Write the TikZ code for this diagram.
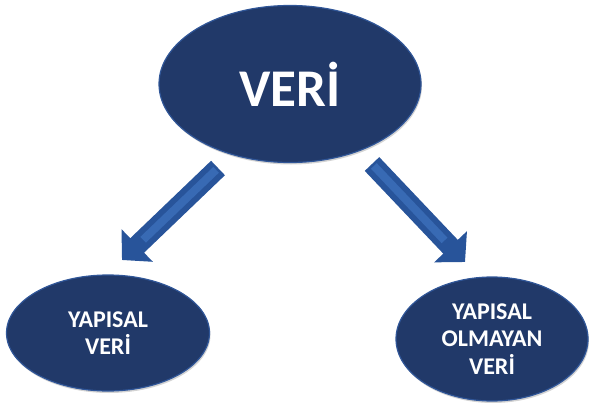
\documentclass[tikz,border=0pt]{standalone}
\usepackage{fontspec}
\setmainfont{Carlito}
\usepackage{tikz}
\usetikzlibrary{shapes.geometric,arrows.meta,shadows,calc}

\definecolor{verinavy}{RGB}{33,57,105}
\definecolor{veriedge}{RGB}{48,86,152}
\definecolor{arrowblue}{RGB}{40,84,154}
\definecolor{arrowlight}{RGB}{56,106,180}

\tikzset{
  veriblob/.style={ellipse, fill=verinavy, draw=veriedge, line width=1.2pt,
    inner sep=0pt, text=white, align=center,
    drop shadow={opacity=0.35, shadow xshift=1pt, shadow yshift=-2pt}},
  bigarrow/.style={arrowblue, line width=20pt, -{Triangle[length=21pt,width=44pt]}},
  arrowshine/.style={arrowlight, line width=8pt}
}

\begin{document}
\begin{tikzpicture}[x=1pt,y=-1pt]
        \useasboundingbox (0,0) rectangle (589,404);

        % Drawing the ellipses
        \node[veriblob, minimum width=262pt, minimum height=157pt,
          font=\fontsize{53}{60}\selectfont\bfseries] (veri) at (290,84) {VERİ};
        \node[veriblob, minimum width=203pt, minimum height=116pt,
          font=\fontsize{24}{27.5}\selectfont\bfseries] (yapisal) at (108,333) {YAPISAL\\VERİ};
        \node[veriblob, minimum width=192pt, minimum height=124pt,
          font=\fontsize{24}{27.5}\selectfont\bfseries] (olmayan) at (492,339) {YAPISAL\\OLMAYAN\\VERİ};

        % Drawing the arrows
        \coordinate (lt) at (218,168);
        \coordinate (lh) at (122,260);
        \coordinate (rt) at (372,164);
        \coordinate (rh) at (465,262);
        \draw[bigarrow] (lt) -- (lh);
        \draw[arrowshine] ($(lt)!0.02!(lh)$) -- ($(lt)!0.78!(lh)$);
        \draw[bigarrow] (rt) -- (rh);
        \draw[arrowshine] ($(rt)!0.02!(rh)$) -- ($(rt)!0.78!(rh)$);
    \end{tikzpicture}
\end{document}
